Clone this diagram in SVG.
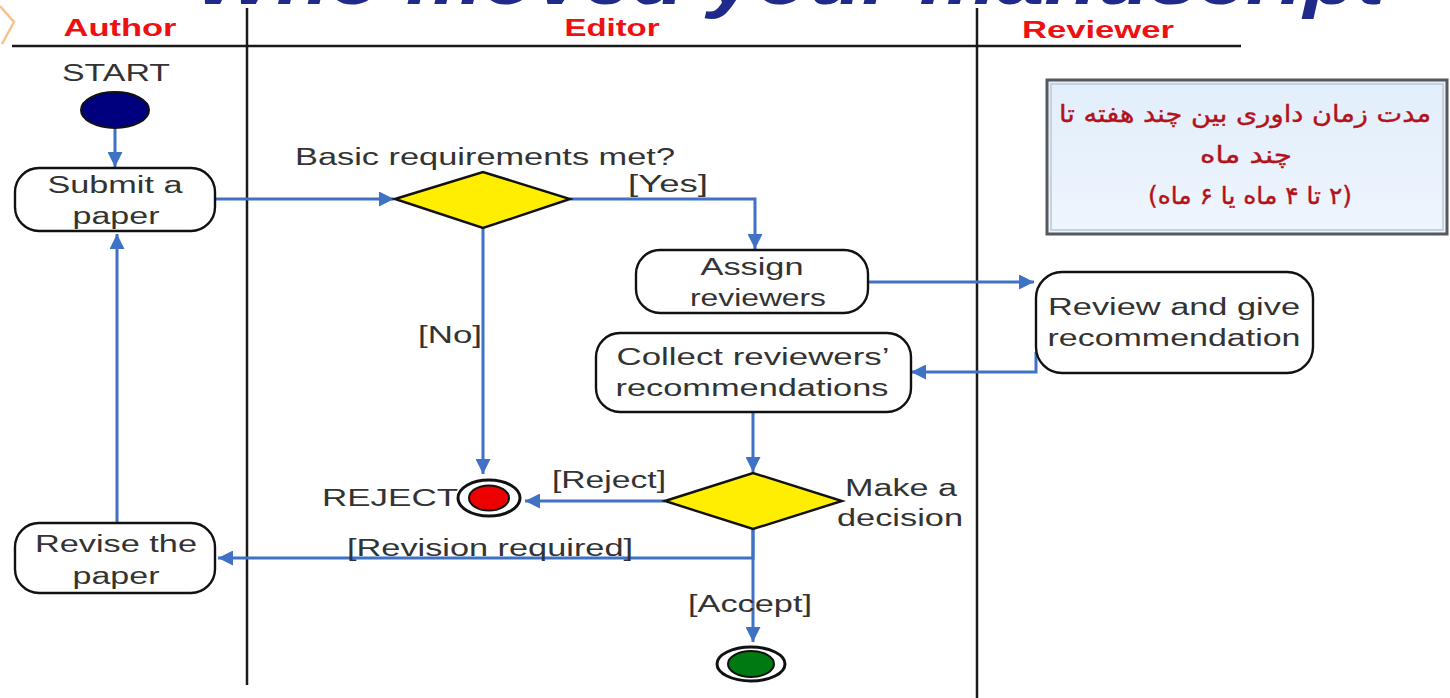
<svg xmlns="http://www.w3.org/2000/svg" width="1450" height="698" viewBox="0 0 1450 698">
<defs>
<marker id="ah" viewBox="0 0 10 10" refX="10" refY="5" markerWidth="6" markerHeight="5" orient="auto" markerUnits="strokeWidth">
<path d="M0,0 L10,5 L0,10 z" fill="#3f72c4"/>
</marker>
<linearGradient id="boxg" x1="0" y1="0" x2="0" y2="1">
<stop offset="0" stop-color="#e2eefb"/>
<stop offset="1" stop-color="#eef5fd"/>
</linearGradient>
</defs>
<style>
.lane{stroke:#1a1a1a;stroke-width:2.5;fill:none}
.hdr{font-family:"Liberation Sans",Arial,sans-serif;font-weight:bold;font-size:23px;fill:#ee1111;text-anchor:middle}
.t{font-family:"Liberation Sans",Arial,sans-serif;font-size:23px;fill:#333;text-anchor:middle}
.act{fill:#fff;stroke:#111;stroke-width:2.4}
.dec{fill:#ffee00;stroke:#111;stroke-width:2.4}
.c{fill:none;stroke:#3f72c4;stroke-width:3}
.fa{font-family:"DejaVu Sans","Noto Sans",sans-serif;font-size:24px;fill:#b3121b;stroke:#b3121b;stroke-width:0.4;text-anchor:middle}
</style>
<rect width="1450" height="698" fill="#fff"/>
<text x="790" y="4" font-family="Liberation Sans,Arial,sans-serif" font-weight="bold" font-style="italic" font-size="74" fill="#1f2a8a" text-anchor="middle" textLength="1190" lengthAdjust="spacingAndGlyphs">Who moved your manuscript</text>
<polyline points="0,6 14,22 2,44" fill="none" stroke="#f7c28a" stroke-width="2.5"/>
<g id="lanes">
<line class="lane" x1="12" y1="46" x2="1241" y2="46"/>
<line class="lane" x1="247" y1="8" x2="247" y2="685"/>
<line class="lane" x1="977" y1="8" x2="977" y2="698"/>
<text class="hdr" x="120" y="36" textLength="113" lengthAdjust="spacingAndGlyphs">Author</text>
<text class="hdr" x="612" y="36" textLength="95" lengthAdjust="spacingAndGlyphs">Editor</text>
<text class="hdr" x="1098" y="38" textLength="152" lengthAdjust="spacingAndGlyphs">Reviewer</text>
</g>
<g id="connectors">
<line class="c" x1="115" y1="128" x2="115" y2="167" marker-end="url(#ah)"/>
<line class="c" x1="215" y1="199" x2="394" y2="199" marker-end="url(#ah)"/>
<path class="c" d="M570,199 H755 V249" marker-end="url(#ah)"/>
<line class="c" x1="483" y1="228" x2="483" y2="474" marker-end="url(#ah)"/>
<line class="c" x1="868" y1="282" x2="1034" y2="282" marker-end="url(#ah)"/>
<path class="c" d="M1036,352 V372 H911" marker-end="url(#ah)"/>
<line class="c" x1="753" y1="412" x2="753" y2="472" marker-end="url(#ah)"/>
<line class="c" x1="665" y1="501" x2="525" y2="501" marker-end="url(#ah)"/>
<path class="c" d="M753,528 V558 H218" marker-end="url(#ah)"/>
<line class="c" x1="753" y1="528" x2="753" y2="642" marker-end="url(#ah)"/>
<line class="c" x1="117" y1="522" x2="117" y2="234" marker-end="url(#ah)"/>
<text class="t" x="668" y="192" textLength="80" lengthAdjust="spacingAndGlyphs">[Yes]</text>
<text class="t" x="450" y="343" textLength="64" lengthAdjust="spacingAndGlyphs">[No]</text>
<text class="t" x="609" y="488" textLength="114" lengthAdjust="spacingAndGlyphs">[Reject]</text>
<text class="t" x="490" y="556" textLength="286" lengthAdjust="spacingAndGlyphs">[Revision required]</text>
<text class="t" x="750" y="612" textLength="124" lengthAdjust="spacingAndGlyphs">[Accept]</text>
</g>
<g id="start">
<text class="t" x="116" y="81" textLength="108" lengthAdjust="spacingAndGlyphs">START</text>
<ellipse cx="115" cy="110" rx="34" ry="18" fill="#00007f" stroke="#111" stroke-width="2"/>
</g>
<g id="submit">
<rect class="act" x="15" y="168" width="200" height="63" rx="24"/>
<text class="t" x="115" y="193" textLength="135" lengthAdjust="spacingAndGlyphs">Submit a</text>
<text class="t" x="116" y="224" textLength="87" lengthAdjust="spacingAndGlyphs">paper</text>
</g>
<g id="basic">
<polygon class="dec" points="395,199 483,172 570,199 483,228"/>
<text class="t" x="485" y="165" textLength="380" lengthAdjust="spacingAndGlyphs">Basic requirements met?</text>
</g>
<g id="assign">
<rect class="act" x="636" y="250" width="232" height="63" rx="24"/>
<text class="t" x="752" y="275" textLength="103" lengthAdjust="spacingAndGlyphs">Assign</text>
<text class="t" x="758" y="306" textLength="136" lengthAdjust="spacingAndGlyphs">reviewers</text>
</g>
<g id="review">
<rect class="act" x="1036" y="272" width="277" height="101" rx="26"/>
<text class="t" x="1174" y="315" textLength="252" lengthAdjust="spacingAndGlyphs">Review and give</text>
<text class="t" x="1174" y="346" textLength="253" lengthAdjust="spacingAndGlyphs">recommendation</text>
</g>
<g id="collect">
<rect class="act" x="596" y="333" width="315" height="79" rx="24"/>
<text class="t" x="753" y="365" textLength="273" lengthAdjust="spacingAndGlyphs">Collect reviewers’</text>
<text class="t" x="752" y="396" textLength="273" lengthAdjust="spacingAndGlyphs">recommendations</text>
</g>
<g id="decision">
<polygon class="dec" points="665,501 753,473 842,501 753,529"/>
<text class="t" x="901" y="496" textLength="112" lengthAdjust="spacingAndGlyphs">Make a</text>
<text class="t" x="900" y="526" textLength="126" lengthAdjust="spacingAndGlyphs">decision</text>
</g>
<g id="reject">
<text class="t" x="322" y="506" style="text-anchor:start" textLength="136" lengthAdjust="spacingAndGlyphs">REJECT</text>
<ellipse cx="489" cy="498" rx="31" ry="18" fill="#fff" stroke="#111" stroke-width="3"/>
<ellipse cx="489" cy="498" rx="20" ry="12.5" fill="#ee0000" stroke="#111" stroke-width="2"/>
</g>
<g id="revise">
<rect class="act" x="15" y="523" width="200" height="70" rx="24"/>
<text class="t" x="116" y="552" textLength="162" lengthAdjust="spacingAndGlyphs">Revise the</text>
<text class="t" x="116" y="584" textLength="87" lengthAdjust="spacingAndGlyphs">paper</text>
</g>
<g id="accept">
<ellipse cx="751" cy="664" rx="34" ry="17" fill="#fff" stroke="#111" stroke-width="3"/>
<ellipse cx="751" cy="664" rx="23" ry="13" fill="#007a10" stroke="#111" stroke-width="2"/>
</g>
<g id="note">
<rect x="1047" y="80" width="400" height="154" fill="url(#boxg)" stroke="#55585e" stroke-width="3"/>
<rect x="1051" y="84" width="392" height="146" fill="none" stroke="#c8d2de" stroke-width="2"/>
<text class="fa" x="1245" y="122" direction="rtl" textLength="372" lengthAdjust="spacingAndGlyphs">مدت زمان داوری بین چند هفته تا</text>
<text class="fa" x="1246" y="163" direction="rtl" textLength="92" lengthAdjust="spacingAndGlyphs">چند ماه</text>
<text class="fa" x="1250" y="204" direction="rtl" textLength="204" lengthAdjust="spacingAndGlyphs">(۲ تا ۴ ماه یا ۶ ماه)</text>
</g>
</svg>
